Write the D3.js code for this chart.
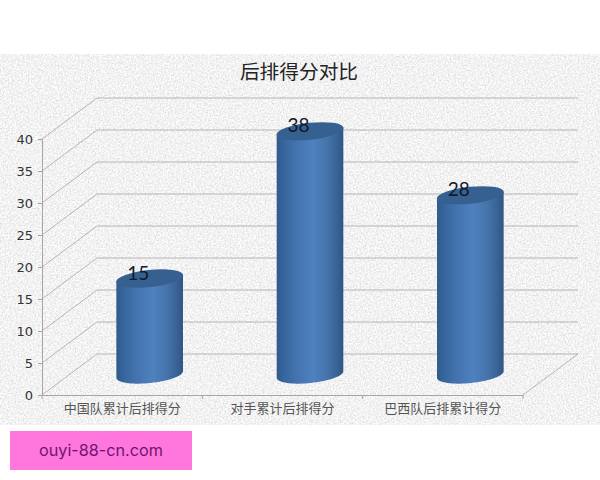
<!DOCTYPE html>
<html><head><meta charset="utf-8">
<style>html,body{margin:0;padding:0;background:#fff}svg{display:block}</style>
<script src="https://cdn.jsdelivr.net/npm/d3@7"></script></head>
<body><div id="c"></div>
<script>
const categories = ["中国队累计后排得分","对手累计后排得分","巴西队后排累计得分"];
const values = [15,38,28];
const yTicks = [0,5,10,15,20,25,30,35,40];
const titleText = "后排得分对比";
const watermark = "ouyi-88-cn.com";

const W=600,H=480;
const svg=d3.select("#c").append("svg").attr("width",W).attr("height",H);
const defs=svg.append("defs");
const f=defs.append("filter").attr("id","paper").attr("x",0).attr("y",0).attr("width","100%").attr("height","100%");
f.append("feTurbulence").attr("type","fractalNoise").attr("baseFrequency",0.6).attr("numOctaves",3).attr("seed",4).attr("result","n");
f.append("feColorMatrix").attr("in","n").attr("type","matrix")
 .attr("values","0.5 0 0 0 0.64  0.5 0 0 0 0.64  0.5 0 0 0 0.64  0 0 0 0 1");
const g=defs.append("linearGradient").attr("id","cyl").attr("x1",0).attr("x2",1).attr("y1",0).attr("y2",0);
[[0,"#2f5a8c"],[0.12,"#38669e"],[0.3,"#4474ae"],[0.55,"#4f81bf"],[0.75,"#4674ac"],[0.9,"#3a6396"],[1,"#2f5585"]]
 .forEach(([o,c])=>g.append("stop").attr("offset",o).attr("stop-color",c));

svg.append("rect").attr("x",0).attr("y",54).attr("width",W).attr("height",371).attr("filter","url(#paper)");

const x=d3.scaleBand().domain(categories).range([42,523]);
const y=d3.scaleLinear().domain([0,40]).range([395,139]);
const dx=55,dy=-41;
const grid="#a6a6a6";

const wall=svg.append("g").attr("fill","none").attr("stroke",grid).attr("stroke-width",0.8);
yTicks.forEach(t=>{
  wall.append("path").attr("d",`M${x.range()[0]},${y(t)}L${x.range()[0]+dx},${y(t)+dy}`+(t>0?`H${x.range()[1]+dx}`:""));
});
wall.append("path").attr("d",`M${x.range()[0]+dx},${y(0)+dy}H${x.range()[1]+dx}L${x.range()[1]},${y(0)}`);

const yAxis=svg.append("g").attr("transform",`translate(${x.range()[0]},0)`).call(d3.axisLeft(y).tickValues(yTicks).tickSize(4).tickPadding(5));
const xAxis=svg.append("g").attr("transform",`translate(0,${y(0)})`).call(d3.axisBottom(x).tickSize(0).tickPadding(9));
yAxis.select(".domain").attr("stroke",grid);
xAxis.select(".domain").attr("stroke",grid);
yAxis.selectAll("line").attr("stroke",grid);
yAxis.selectAll("text").attr("fill","#333").style("font","13px 'DejaVu Sans'");
xAxis.selectAll("text").attr("fill","#555").style("font","13px 'Noto Sans CJK SC'");
x.domain().concat([null]).forEach((c,i)=>{
  const px=x.range()[0]+i*x.step();
  svg.append("line").attr("x1",px).attr("x2",px).attr("y1",y(0)).attr("y2",y(0)+4).attr("stroke",grid);
});

// cylinders: side outline sampled along the lower half of a tilted ellipse
const rx=33.5,ry=8.5,rot=-6,lift=20.5;
const phi=rot*Math.PI/180;
const ell=(a,cy)=>[rx*Math.cos(a)*Math.cos(phi)-ry*Math.sin(a)*Math.sin(phi), cy+rx*Math.cos(a)*Math.sin(phi)+ry*Math.sin(a)*Math.cos(phi)];
const angles=d3.range(0,37).map(i=>Math.PI*(1-i/36));
const line=d3.line();
const bars=svg.append("g").selectAll("g").data(categories.map((c,i)=>({c,v:values[i]}))).join("g")
 .attr("transform",d=>`translate(${x(d.c)+x.bandwidth()/2+dx/2},0)`);
bars.append("path").attr("fill","url(#cyl)").attr("d",d=>{
  const t=y(d.v)-lift, b=y(0)-lift;
  const lower=angles.map(a=>ell(a,b));
  const first=ell(Math.PI,t), last=ell(0,t);
  return line([first,...lower,last])+"Z";
});
bars.append("ellipse").attr("rx",rx+0.2).attr("ry",ry).attr("cy",d=>y(d.v)-lift)
 .attr("transform",d=>`rotate(${rot} 0 ${y(d.v)-lift})`).attr("fill","#36608f");
bars.append("text").attr("text-anchor","middle").attr("x",-11.5).attr("y",d=>y(d.v)-lift+1)
 .attr("fill","#10182c").style("font","19px Lato").text(d=>d.v);

svg.append("text").attr("x",299).attr("y",79).attr("text-anchor","middle").attr("fill","#222")
 .style("font","19.7px 'Noto Sans CJK SC'").text(titleText);

svg.append("rect").attr("x",10).attr("y",431).attr("width",182).attr("height",39).attr("fill","#ff77dc");
svg.append("text").attr("x",101).attr("y",455.5).attr("text-anchor","middle").attr("fill","#6e1470")
 .style("font","16.2px Inter").text(watermark);
</script></body></html>
